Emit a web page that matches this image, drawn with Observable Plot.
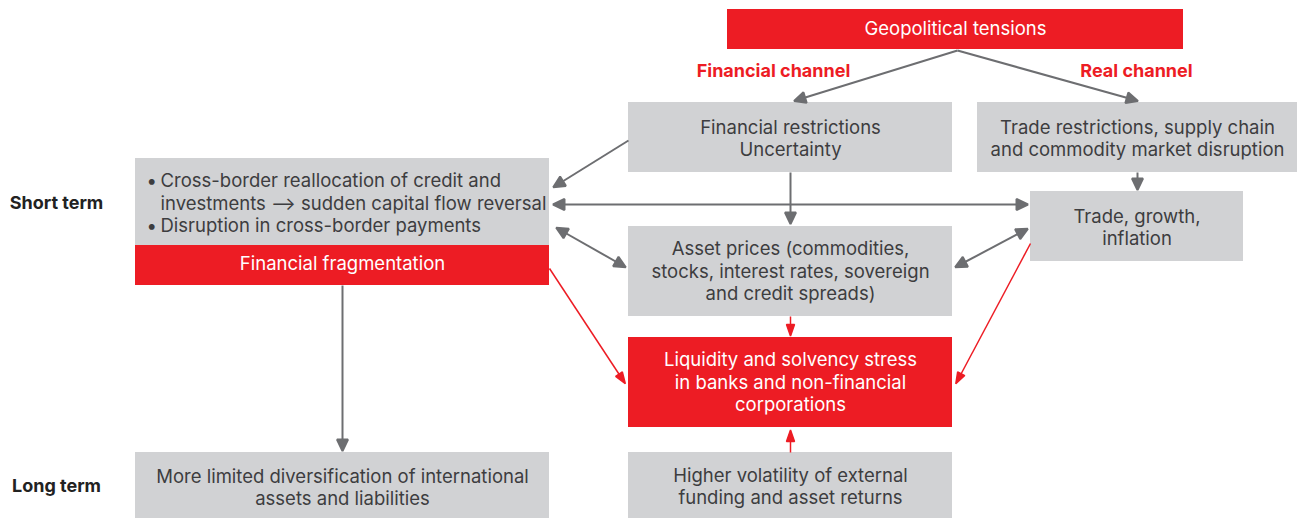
<!DOCTYPE html>
<html><head><meta charset="utf-8">
<script src="https://cdn.jsdelivr.net/npm/d3@7"></script>
<script src="https://cdn.jsdelivr.net/npm/@observablehq/plot@0.6"></script>
<style>
html,body{margin:0;padding:0;background:#fff;}
#chart{width:1300px;height:519px;overflow:hidden;}
</style></head><body><div id="chart"></div>
<script>
// ---- content ----
const boxIds = ["geo","finr","trader","fragTop","frag","tgi","asset","liq","ltdiv","vol"];
const boxLabels = [
  "Geopolitical tensions",
  "Financial restrictions\nUncertainty",
  "Trade restrictions, supply chain\nand commodity market disruption",
  "",
  "Financial fragmentation",
  "Trade, growth,\ninflation",
  "Asset prices (commodities,\nstocks, interest rates, sovereign\nand credit spreads)",
  "Liquidity and solvency stress\nin banks and non-financial\ncorporations",
  "More limited diversification of international\nassets and liabilities",
  "Higher volatility of external\nfunding and asset returns"
];
const boxKinds = ["red","gray","gray","gray","red","gray","gray","red","gray","gray"];
const bulletLines = ["Cross-border reallocation of credit and", "investments \u27F6 sudden capital flow reversal", "Disruption in cross-border payments"];
const bulletFlags = [true, false, true];
const channelLabels = ["Financial channel", "Real channel"];
const termLabels = ["Short term", "Long term"];
const linkFrom = ["geo","geo","finr","finr","fragTop","trader","fragTop","tgi","frag","frag","tgi","asset","vol"];
const linkTo   = ["finr","trader","fragTop","asset","tgi","tgi","asset","asset","ltdiv","liq","liq","liq","liq"];
const linkKinds = ["gray","gray","gray","gray","gray","gray","gray","gray","gray","red","red","red","red"];
const linkDouble = [false,false,false,false,true,false,true,true,false,false,false,false,false];

// ---- layout (diagram geometry, px) ----
const boxLayout = {
  geo: [727,1183,9,49,-3], finr: [628,952,102,172,-1], trader: [977,1297,102,172,-1],
  fragTop: [135,549,158,245,0], frag: [135,549,245,285,-4], tgi: [1030,1243,191,261,-1],
  asset: [628,952,226,316,-2], liq: [628,952,337,427,-2], ltdiv: [135,549,452,518,0], vol: [628,952,452,518,-1]
};
const linkLayout = [
  [957,50,795,100],[957,50,1136,100],[628,140,554,186],[790,172,790,222],
  [554,204,1026,204],[1137,172,1137,188],[557,228,624,266],[1026,229,956,266],
  [342,285,342,449],[549,268,624,382],[1030,243,956,382],[790,316,790,334],[790,452,790,431]
];
const bulletLayout = {bx: 146, tx: 160, y: [181, 203.5, 226]};
const channelLayout = [[773,71],[1136,71]];
const termLayout = [[56,203],[56,486]];

const RED = "#ed1c24", GRAY = "#d1d2d4", ARROW = "#6d6e71", TEXT = "#3d3d3f";
const FS = 18.5, LH = 1.2;

// ---- tables ----
const boxes = boxIds.map((id, i) => {
  const [x1,x2,y1,y2,dy] = boxLayout[id];
  return {id, label: boxLabels[i], kind: boxKinds[i], x1, x2, y1, y2, cx: (x1+x2)/2, cy: (y1+y2)/2 + 1 + dy};
});
const links = linkFrom.map((f, i) => {
  const [x1,y1,x2,y2] = linkLayout[i];
  return {from: f, to: linkTo[i], kind: linkKinds[i], dbl: linkDouble[i], x1, y1, x2, y2};
});
const bullets = bulletLines.map((t, i) => ({text: t, bullet: bulletFlags[i], y: bulletLayout.y[i]}));
const channels = channelLabels.map((t, i) => ({text: t, x: channelLayout[i][0], y: channelLayout[i][1]}));
const terms = termLabels.map((t, i) => ({text: t, x: termLayout[i][0], y: termLayout[i][1]}));

function tri(l, w) {
  return (color) => {
    const m = d3.create("svg:marker")
      .attr("viewBox", `${-l} ${-w/2} ${l+2} ${w}`)
      .attr("markerUnits", "userSpaceOnUse")
      .attr("markerWidth", l+2).attr("markerHeight", w)
      .attr("refX", 0).attr("refY", 0)
      .attr("orient", "auto-start-reverse")
      .attr("overflow", "visible");
    m.append("path").attr("d", `M${-l},${-w/2}L1.5,0L${-l},${w/2}Z`).attr("fill", color);
    return m.node();
  };
}
const grayHead = tri(10, 11);
const redHead = tri(10, 8);

const grayLinks = links.filter(d => d.kind === "gray");
const redLinks = links.filter(d => d.kind === "red");

const chart = Plot.plot({
  width: 1300, height: 519, margin: 0,
  x: {type: "linear", domain: [0,1300], range: [0,1300], axis: null},
  y: {type: "linear", domain: [0,519], range: [0,519], axis: null},
  style: {fontFamily: "Inter, 'Noto Sans', sans-serif", background: "#fff", overflow: "visible"},
  marks: [
    Plot.rect(boxes, {x1: "x1", x2: "x2", y1: "y1", y2: "y2", fill: d => d.kind === "red" ? RED : GRAY}),
    Plot.link(grayLinks.filter(d => !d.dbl), {x1: "x1", y1: "y1", x2: "x2", y2: "y2", stroke: ARROW, strokeWidth: 2, markerEnd: grayHead}),
    Plot.link(grayLinks.filter(d => d.dbl), {x1: "x1", y1: "y1", x2: "x2", y2: "y2", stroke: ARROW, strokeWidth: 2, markerStart: grayHead, markerEnd: grayHead}),
    Plot.link(redLinks, {x1: "x1", y1: "y1", x2: "x2", y2: "y2", stroke: RED, strokeWidth: 1.5, markerEnd: redHead}),
    Plot.text(boxes.filter(d => d.label), {x: "cx", y: "cy", text: "label", fill: d => d.kind === "red" ? "#fff" : TEXT,
      fontSize: FS, lineHeight: LH, lineAnchor: "middle", textAnchor: "middle"}),
    Plot.text(bullets, {x: bulletLayout.tx, y: "y", text: "text", fill: TEXT, fontSize: FS, textAnchor: "start"}),
    Plot.text(bullets.filter(d => d.bullet), {x: bulletLayout.bx, y: "y", text: () => "\u2022", fill: TEXT, fontSize: FS, textAnchor: "start"}),
    Plot.text(channels, {x: "x", y: "y", text: "text", fill: RED, fontSize: 18, fontWeight: "bold"}),
    Plot.text(terms, {x: "x", y: "y", text: "text", fill: "#222", fontSize: 18, fontWeight: "bold"})
  ]
});
document.getElementById("chart").appendChild(chart);
</script>
</body></html>
